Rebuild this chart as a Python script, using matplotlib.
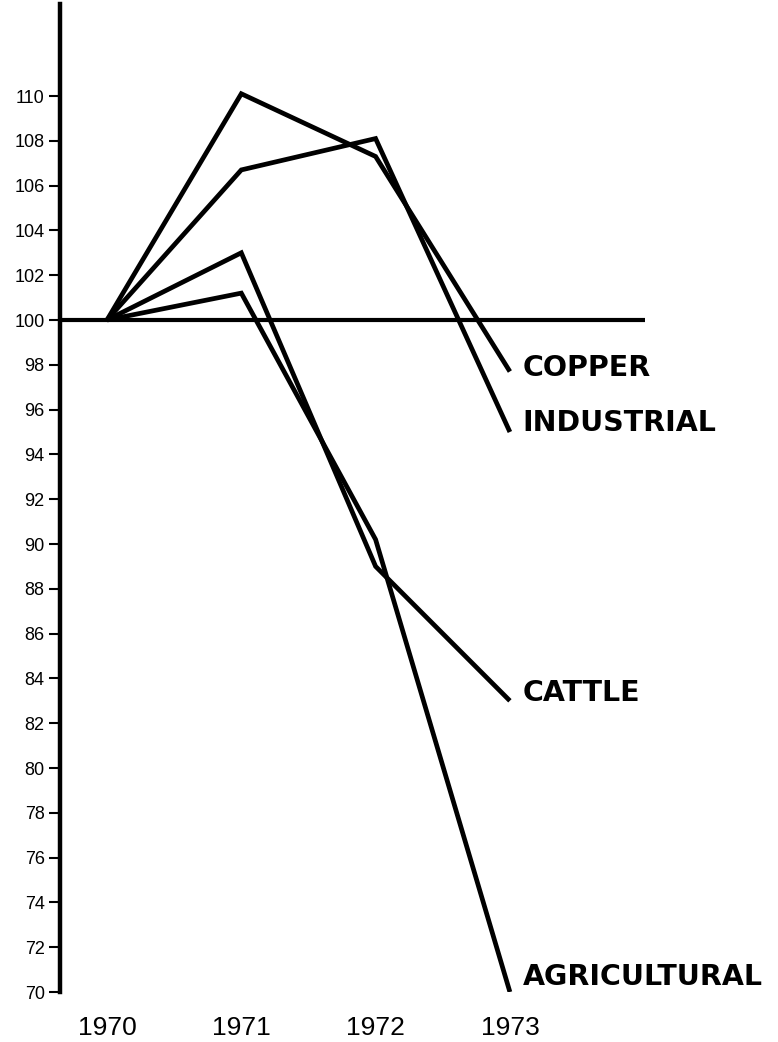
import matplotlib.pyplot as plt

# Daten (Index 1970 = 100)
jahre = [1970, 1971, 1972, 1973]
copper = [100, 110.1, 107.3, 97.7]
industrial = [100, 106.7, 108.1, 95.0]
cattle = [100, 103.0, 89.0, 83.0]
agricultural = [100, 101.2, 90.2, 70.0]

namen = ["COPPER", "INDUSTRIAL", "CATTLE", "AGRICULTURAL"]
reihen = [copper, industrial, cattle, agricultural]
# Versatz der Beschriftung (Punkte) relativ zum Endpunkt
versatz = [(9, 2.5), (9, 6.3), (9, 5.8), (9, 10.8)]

y_ticks = list(range(70, 111, 2))

fig = plt.figure(figsize=(7.78, 10.42), dpi=100)
# Achse so legen, dass 70 unten bei Pixel 992 und oben bei Pixel 0 liegt
ax = fig.add_axes([0, 50 / 1042, 1, 992 / 1042])

px_jahr = 134.3
px_wert = 22.4
ax.set_xlim(1970 - 107 / px_jahr, 1970 + (778 - 107) / px_jahr)
ax.set_ylim(70, 70 + 992 / px_wert)

farbe = "black"

# Linien zeichnen
for werte in reihen:
    ax.plot(jahre, werte, color=farbe, linewidth=3.4, solid_joinstyle="miter",
            solid_capstyle="butt", zorder=3)

# 100-Linie
achse_x = 1970 - (107 - 60) / px_jahr
ax.hlines(100, achse_x, 1970 + (645 - 107) / px_jahr, color=farbe, linewidth=3.0, zorder=2)

# Beschriftungen an den Endpunkten
for name, werte, (dx, dy) in zip(namen, reihen, versatz):
    ax.annotate(name, xy=(jahre[-1], werte[-1]), xytext=(dx, dy),
                textcoords="offset points", ha="left", va="center",
                fontsize=20.5, fontweight="bold", family="DejaVu Sans", color=farbe)

# Y-Achse
for s in ["top", "right", "bottom"]:
    ax.spines[s].set_visible(False)
ax.spines["left"].set_position(("data", achse_x))
ax.spines["left"].set_linewidth(3.2)
ax.spines["left"].set_bounds(70, 100 + (323 - 7) / px_wert)
ax.set_yticks(y_ticks)
ax.set_yticklabels([str(t) for t in y_ticks], family="Liberation Sans", fontsize=13)
ax.tick_params(axis="y", direction="out", length=8, width=1.5, pad=3, colors=farbe)

# X-Achse (nur Jahreszahlen)
ax.set_xticks(jahre)
ax.set_xticklabels([str(j) for j in jahre], family="Liberation Sans", fontsize=19)
ax.tick_params(axis="x", length=0, pad=17)

ax.patch.set_visible(False)
fig.savefig("out.png", dpi=100, facecolor="white")
